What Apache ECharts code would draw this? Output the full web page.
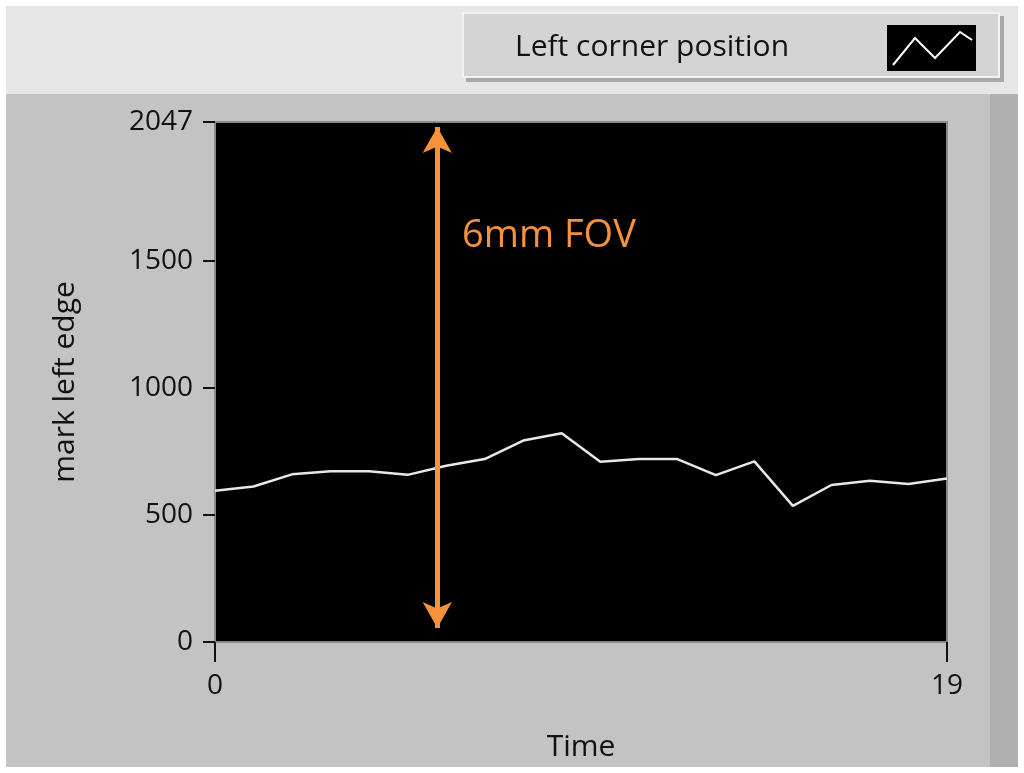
<!DOCTYPE html>
<html>
<head>
<meta charset="utf-8">
<script src="https://cdn.jsdelivr.net/npm/echarts@6/dist/echarts.min.js"></script>
<style>html,body{margin:0;padding:0;background:#fff;}#chart{width:1024px;height:773px;}</style>
</head>
<body>
<div id="chart"></div>
<script>
// time steps and left corner position values
var timeSteps = [0,1,2,3,4,5,6,7,8,9,10,11,12,13,14,15,16,17,18,19];
var leftEdge = [595,612,660,672,672,658,694,720,793,822,710,720,720,657,711,536,618,635,622,644];
var yTicks = [0,500,1000,1500,2047];
var xTicks = [0,19];
var fovArrowX = 5.77;
var fovArrowY = [2027,55];

var chart = echarts.init(document.getElementById('chart'));
var font = '"Open Sans", "DejaVu Sans", sans-serif';

var option = {
  backgroundColor: '#c3c3c3',
  animation: false,
  graphic: [
    {type: 'rect', shape: {x: 0, y: 0, width: 1024, height: 773}, style: {fill: 'none', stroke: '#ffffff', lineWidth: 12}, z: 100},
    {type: 'rect', shape: {x: 6, y: 6, width: 1012, height: 88}, style: {fill: '#e6e6e6'}, z: -1},
    {type: 'rect', shape: {x: 990, y: 94, width: 28, height: 673}, style: {fill: '#b0b0b0'}, z: -1},
    {type: 'rect', shape: {x: 466, y: 16, width: 538, height: 66}, style: {fill: '#a8a8a8'}, z: 1},
    {type: 'rect', shape: {x: 463, y: 13, width: 536, height: 64}, style: {fill: '#d4d4d4', stroke: '#f2f2f2', lineWidth: 2}, z: 2},
    {type: 'text', x: 515, y: 47, style: {text: 'Left corner position', font: '30px ' + font, fill: '#111', verticalAlign: 'middle'}, z: 3},
    {type: 'rect', shape: {x: 887, y: 25, width: 89, height: 46}, style: {fill: '#000'}, z: 3},
    {type: 'polyline', shape: {points: [[893, 65], [915, 38], [935, 58], [960, 32], [972, 40]]}, style: {stroke: '#fff', lineWidth: 2, fill: 'none'}, z: 4},
    {type: 'text', x: 462, y: 236, style: {text: '6mm FOV', font: '38px ' + font, fill: '#f7923a', verticalAlign: 'middle'}, z: 10}
  ],
  grid: {
    left: 215, top: 122, right: 77, bottom: 131,
    show: true, backgroundColor: '#000', borderColor: '#8a8a8a', borderWidth: 2
  },
  xAxis: {
    type: 'value', min: 0, max: 19,
    name: 'Time', nameLocation: 'middle', nameGap: 90,
    nameTextStyle: {fontSize: 30, color: '#111', fontFamily: font},
    axisLine: {show: false},
    axisTick: {show: true, customValues: xTicks, length: 20, lineStyle: {color: '#111', width: 2}},
    axisLabel: {customValues: xTicks, fontSize: 28, color: '#111', fontFamily: font, margin: 30,
      formatter: function (v) { return String(v); }},
    splitLine: {show: false}
  },
  yAxis: {
    type: 'value', min: 0, max: 2047,
    name: 'mark left edge', nameLocation: 'middle', nameGap: 135,
    nameTextStyle: {fontSize: 30, color: '#111', fontFamily: font},
    axisLine: {show: false},
    axisTick: {show: true, customValues: yTicks, length: 12, lineStyle: {color: '#111', width: 2}},
    axisLabel: {customValues: yTicks, fontSize: 28, color: '#111', fontFamily: font, margin: 22,
      formatter: function (v) { return String(v); }},
    splitLine: {show: false}
  },
  series: [
    {
      name: 'Left corner position',
      type: 'line',
      data: timeSteps.map(function (t, i) { return [t, leftEdge[i]]; }),
      showSymbol: false,
      lineStyle: {color: '#e8e8e8', width: 2.5},
      markLine: {
        silent: true,
        symbol: ['arrow', 'arrow'],
        symbolSize: [22, 26],
        label: {show: false},
        lineStyle: {color: '#f7923a', width: 5, type: 'solid'},
        data: [[{coord: [fovArrowX, fovArrowY[0]]}, {coord: [fovArrowX, fovArrowY[1]]}]]
      }
    }
  ]
};
chart.setOption(option);
</script>
</body>
</html>
